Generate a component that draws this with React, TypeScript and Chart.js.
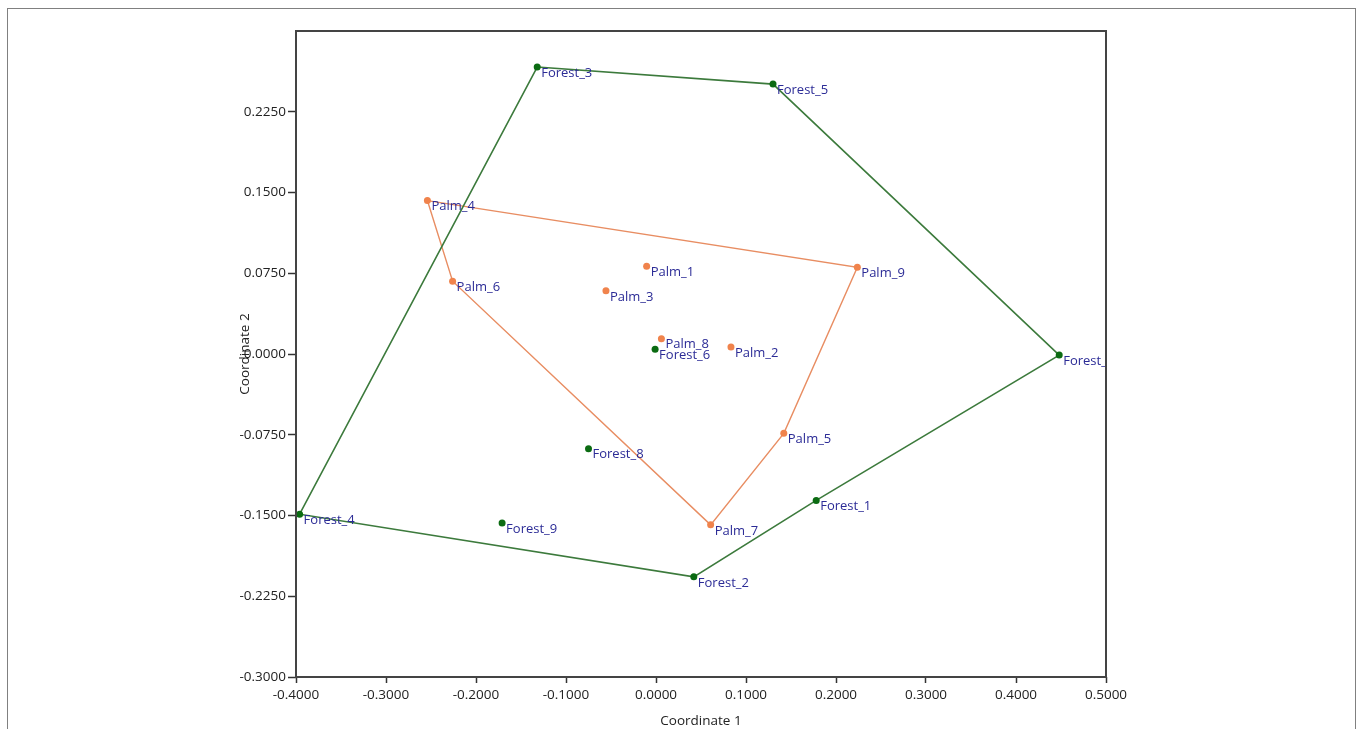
import React, { useEffect, useRef } from "react";
import { Chart, registerables } from "chart.js";

Chart.register(...registerables);

// ---- Data ----
const forestNames = ["Forest_1", "Forest_2", "Forest_3", "Forest_4", "Forest_5", "Forest_6", "Forest_7", "Forest_8", "Forest_9"];
const forestX = [0.178, 0.042, -0.132, -0.396, 0.130, -0.001, 0.448, -0.075, -0.171];
const forestY = [-0.136, -0.207, 0.2665, -0.1488, 0.2507, 0.0045, -0.001, -0.088, -0.157];

const palmNames = ["Palm_1", "Palm_2", "Palm_3", "Palm_4", "Palm_5", "Palm_6", "Palm_7", "Palm_8", "Palm_9"];
const palmX = [-0.0104, 0.0833, -0.0556, -0.254, 0.142, -0.226, 0.0607, 0.006, 0.2237];
const palmY = [0.0815, 0.0064, 0.0587, 0.1425, -0.0737, 0.0676, -0.1587, 0.0142, 0.0806];

const forestHull = ["Forest_3", "Forest_5", "Forest_7", "Forest_1", "Forest_2", "Forest_4", "Forest_3"];
const palmHull = ["Palm_4", "Palm_9", "Palm_5", "Palm_7", "Palm_6", "Palm_4"];

const xTicks = [-0.4, -0.3, -0.2, -0.1, 0.0, 0.1, 0.2, 0.3, 0.4, 0.5];
const yTicks = [-0.3, -0.225, -0.15, -0.075, 0.0, 0.075, 0.15, 0.225];

const xTitle = "Coordinate 1";
const yTitle = "Coordinate 2";

const FONT = "'Open Sans', 'DejaVu Sans', sans-serif";

function pts(xs: number[], ys: number[]) {
  return xs.map((x, i) => ({ x, y: ys[i] }));
}
function hullPts(order: string[], names: string[], xs: number[], ys: number[]) {
  return order.map((n) => {
    const i = names.indexOf(n);
    return { x: xs[i], y: ys[i] };
  });
}
function fmt(v: number) {
  const val = Math.abs(v) < 1e-9 ? 0 : v;
  return val.toFixed(4);
}

const frameAndLabels = {
  id: "frameAndLabels",
  afterDatasetsDraw(chart: any) {
    const { ctx, chartArea } = chart;
    ctx.save();
    ctx.beginPath();
    ctx.rect(chartArea.left, chartArea.top, chartArea.right - chartArea.left, chartArea.bottom - chartArea.top);
    ctx.clip();
    ctx.font = `13px ${FONT}`;
    ctx.fillStyle = "#2b2b96";
    ctx.textBaseline = "middle";
    ctx.textAlign = "left";
    chart.data.datasets.forEach((ds: any, di: number) => {
      if (!ds.pointNames) return;
      const meta = chart.getDatasetMeta(di);
      meta.data.forEach((el: any, i: number) => {
        ctx.fillText(ds.pointNames[i], el.x + 4, el.y + 6);
      });
    });
    ctx.restore();
    ctx.save();
    ctx.strokeStyle = "#444";
    ctx.lineWidth = 2;
    ctx.strokeRect(chartArea.left, chartArea.top, chartArea.right - chartArea.left, chartArea.bottom - chartArea.top);
    ctx.restore();
  },
};

export default function App() {
  const ref = useRef<HTMLCanvasElement | null>(null);

  useEffect(() => {
    if (!ref.current) return;
    const chart = new Chart(ref.current, {
      type: "scatter",
      data: {
        datasets: [
          {
            label: "Forest hull",
            data: hullPts(forestHull, forestNames, forestX, forestY),
            showLine: true,
            borderColor: "#3c7a3c",
            borderWidth: 1.6,
            pointRadius: 0,
            order: 3,
          } as any,
          {
            label: "Palm hull",
            data: hullPts(palmHull, palmNames, palmX, palmY),
            showLine: true,
            borderColor: "#e88d62",
            borderWidth: 1.4,
            pointRadius: 0,
            order: 3,
          } as any,
          {
            label: "Forest",
            data: pts(forestX, forestY),
            pointNames: forestNames,
            backgroundColor: "#0b6b12",
            borderColor: "#0b6b12",
            pointRadius: 3.5,
            borderWidth: 0,
            order: 1,
          } as any,
          {
            label: "Palm",
            data: pts(palmX, palmY),
            pointNames: palmNames,
            backgroundColor: "#f0834c",
            borderColor: "#f0834c",
            pointRadius: 3.5,
            borderWidth: 0,
            order: 1,
          } as any,
        ],
      },
      options: {
        responsive: false,
        animation: false,
        events: [],
        layout: { padding: { left: 237, right: 254, top: 31, bottom: 0 } },
        plugins: { legend: { display: false }, tooltip: { enabled: false } },
        scales: {
          x: {
            type: "linear",
            min: -0.4,
            max: 0.5,
            afterBuildTicks: (scale: any) => {
              scale.ticks = xTicks.map((v) => ({ value: v }));
            },
            afterFit: (scale: any) => {
              scale.height = 52;
            },
            ticks: {
              callback: (v: any) => fmt(Number(v)),
              font: { family: FONT, size: 13.5 },
              color: "#222",
              padding: 4,
              maxRotation: 0,
              autoSkip: false,
            },
            grid: { drawOnChartArea: false, drawTicks: true, tickLength: 6, tickColor: "#333", tickWidth: 1.5 },
            border: { display: false },
            title: {
              display: true,
              text: xTitle,
              font: { family: FONT, size: 13.5 },
              color: "#222",
              padding: 0,
            },
          },
          y: {
            type: "linear",
            min: -0.3,
            max: 0.3,
            afterBuildTicks: (scale: any) => {
              scale.ticks = yTicks.map((v) => ({ value: v }));
            },
            afterFit: (scale: any) => {
              scale.width = 59;
            },
            ticks: {
              callback: (v: any) => fmt(Number(v)),
              font: { family: FONT, size: 13.5 },
              color: "#222",
              padding: 2,
              autoSkip: false,
            },
            grid: { drawOnChartArea: false, drawTicks: true, tickLength: 8, tickColor: "#333", tickWidth: 1.5 },
            border: { display: false },
            title: {
              display: true,
              text: yTitle,
              font: { family: FONT, size: 13.5 },
              color: "#222",
              padding: 0,
            },
          },
        },
      } as any,
      plugins: [frameAndLabels],
    });
    return () => chart.destroy();
  }, []);

  return (
    <div style={{ position: "fixed", left: 0, top: 0, width: 1360, height: 729, overflow: "hidden", background: "#fff" }}>
      <div
        style={{
          position: "absolute",
          left: 7,
          top: 8,
          width: 1349,
          height: 740,
          border: "1.5px solid #808080",
          boxSizing: "border-box",
        }}
      />
      <canvas ref={ref} width={1360} height={729} style={{ position: "absolute", left: 0, top: 0 }} />
    </div>
  );
}
